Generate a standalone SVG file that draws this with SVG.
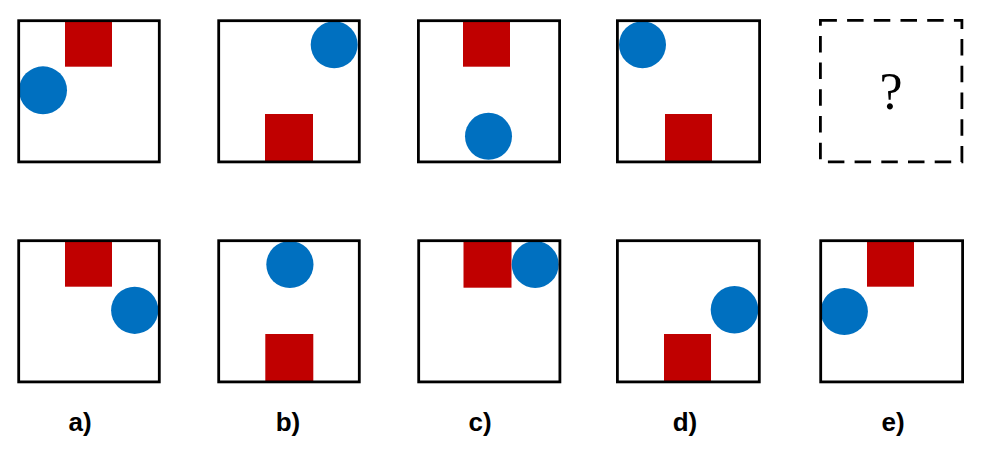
<svg xmlns="http://www.w3.org/2000/svg" width="983" height="455" viewBox="0 0 983 455">
<style>
.sq{fill:#C00000}
.ci{fill:#0070C0}
.bx{fill:none;stroke:#000;stroke-width:2.8}
.dash{stroke-dasharray:16.5 10.2}
.lbl{font-family:"Liberation Sans",Arial,sans-serif;font-weight:bold;font-size:26px;fill:#000;text-anchor:middle}
.q{font-family:"Liberation Serif","Times New Roman",serif;font-size:52px;fill:#000;text-anchor:middle}
</style>
<rect width="983" height="455" fill="#fff"/>
<g id="top-a">
<rect class="sq" x="65" y="20.7" width="47" height="46"/>
<circle class="ci" cx="43" cy="90.3" r="24"/>
<rect class="bx" x="18.7" y="20.7" width="140.6" height="141.2"/>
</g>
<g id="top-b">
<rect class="sq" x="265" y="114" width="48" height="48"/>
<circle class="ci" cx="334.2" cy="44.8" r="23.5"/>
<rect class="bx" x="218.7" y="20.7" width="140.6" height="141.2"/>
</g>
<g id="top-c">
<rect class="sq" x="463" y="20.7" width="47" height="46"/>
<circle class="ci" cx="488.5" cy="136.3" r="23.5"/>
<rect class="bx" x="418.4" y="20.7" width="141.2" height="141.2"/>
</g>
<g id="top-d">
<rect class="sq" x="665" y="114" width="47" height="48"/>
<circle class="ci" cx="642.5" cy="44.7" r="23.5"/>
<rect class="bx" x="617.4" y="20.7" width="142.2" height="141.2"/>
</g>
<g id="top-e">
<rect class="bx dash" x="820.4" y="20.4" width="141.5" height="141.5"/>
<text class="q" x="891" y="109">?</text>
</g>
<g id="bottom-a">
<rect class="sq" x="65" y="240.7" width="47" height="46"/>
<circle class="ci" cx="134.7" cy="310.3" r="23.6"/>
<rect class="bx" x="18.7" y="240.7" width="140.6" height="141.2"/>
</g>
<g id="bottom-b">
<rect class="sq" x="265.3" y="334" width="48" height="48"/>
<circle class="ci" cx="289.9" cy="264.5" r="23.6"/>
<rect class="bx" x="218.7" y="240.7" width="140.6" height="141.2"/>
</g>
<g id="bottom-c">
<rect class="sq" x="463.5" y="240.7" width="48" height="47"/>
<circle class="ci" cx="535.2" cy="264.5" r="23.5"/>
<rect class="bx" x="418.7" y="240.7" width="141.2" height="141.2"/>
</g>
<g id="bottom-d">
<rect class="sq" x="664" y="334" width="47" height="48"/>
<circle class="ci" cx="734.5" cy="309.8" r="23.8"/>
<rect class="bx" x="617.4" y="240.7" width="141.9" height="141.2"/>
</g>
<g id="bottom-e">
<rect class="sq" x="867" y="240.7" width="47" height="46"/>
<circle class="ci" cx="844.3" cy="311.5" r="23.6"/>
<rect class="bx" x="820.7" y="240.7" width="141.9" height="141.2"/>
</g>
<g id="labels">
<text class="lbl" x="80" y="431">a)</text>
<text class="lbl" x="288" y="431">b)</text>
<text class="lbl" x="480" y="431">c)</text>
<text class="lbl" x="685" y="431">d)</text>
<text class="lbl" x="893" y="431">e)</text>
</g>
<g id="connectors"/>
</svg>
